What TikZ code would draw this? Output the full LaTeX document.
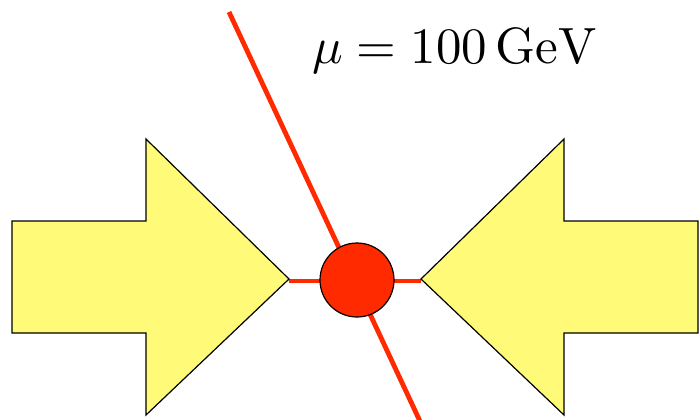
\documentclass[tikz,border=0pt]{standalone}
\usepackage{tikz}
\definecolor{arrowyellow}{RGB}{255,250,120}
\definecolor{linered}{RGB}{255,42,0}
\tikzset{
  bigarrow/.style={fill=arrowyellow, draw=black, line width=0.6pt, line join=miter},
  redline/.style={draw=linered, line width=2.4pt},
  vertex/.style={circle, fill=linered, draw=black, line width=0.6pt, minimum size=37pt, inner sep=0pt},
  scalelabel/.style={anchor=base west, inner sep=0pt, font=\fontsize{10}{12}\selectfont, scale=2.55, transform shape}
}
\begin{document}
\begin{tikzpicture}[x=0.5pt, y=-0.5pt]
\useasboundingbox (0,0) rectangle (700,419);
\begin{scope}
\clip (0,0) rectangle (700,419);
\coordinate (ltip) at (289,279);
\coordinate (rtip) at (421,279);
\coordinate (dtop) at (229,12);
\coordinate (dbot) at (425,432);
\draw[redline] (dtop) -- (dbot);
\draw[redline] (ltip |- 0,281) -- (rtip |- 0,281);
\node[vertex] (v) at (357,280) {};
\draw[bigarrow] (12,221) -- (146,221) -- (146,139) -- (ltip) -- (146,415) -- (146,333) -- (12,333) -- cycle;
\draw[bigarrow] (698,221) -- (564,221) -- (564,139) -- (rtip) -- (564,415) -- (564,333) -- (698,333) -- cycle;
\end{scope}
\node[scalelabel] (label) at (311,63) {$\mu = 100\,\mathrm{GeV}$};
\end{tikzpicture}
\end{document}
